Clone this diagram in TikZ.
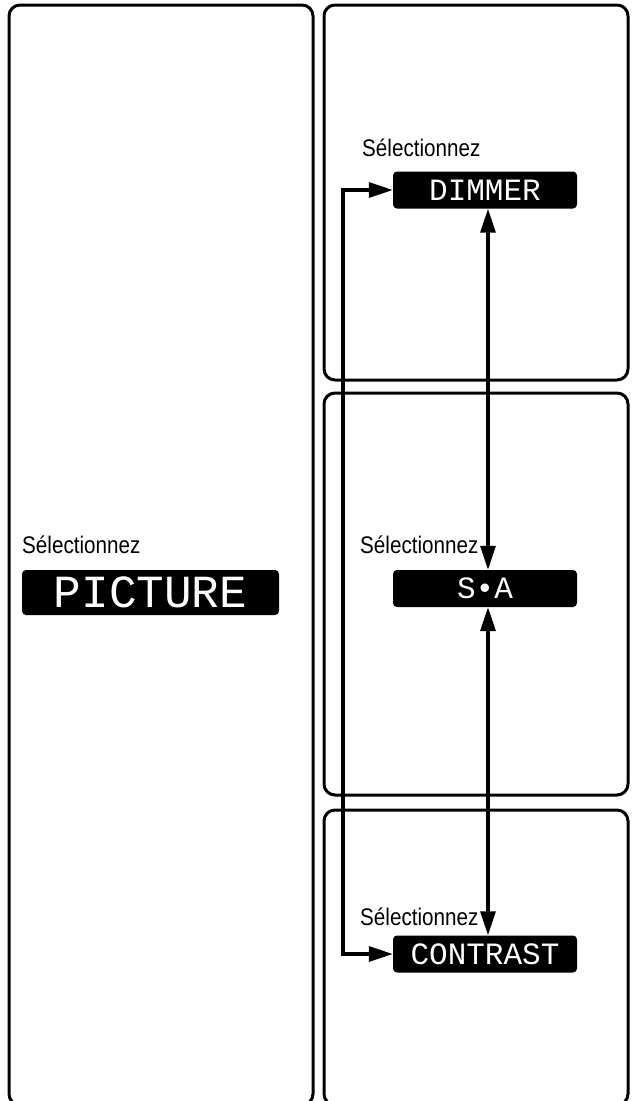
\documentclass[tikz,border=0pt]{standalone}
\usepackage{fontspec}
\setmainfont{Liberation Sans}
\newfontfamily\lcdfont{Liberation Mono}
\newfontfamily\condfont[FakeStretch=0.86]{Liberation Sans}
\usetikzlibrary{arrows.meta,positioning}

\tikzset{
  panel/.style={draw, line width=3pt, rounded corners=11pt},
  sel/.style={anchor=base west, inner sep=0pt, font=\condfont\fontsize{24}{24}\selectfont},
  lcd/.style={fill=black, text=white, rounded corners=4pt, minimum width=184pt,
    minimum height=37pt, inner sep=0pt, font=\lcdfont\fontsize{31}{31}\selectfont},
  link/.style={line width=3.2pt,
    {Triangle[length=24pt,width=15pt]}-{Triangle[length=24pt,width=15pt]}}
}

\begin{document}
\begin{tikzpicture}[x=1pt, y=-1pt]
    \useasboundingbox (0,0) rectangle (635,1101);

    % Panels (bottom edges run off the page)
    \draw[panel] (9,5) rectangle (313,1105);
    \draw[panel] (324,5) rectangle (628,380);
    \draw[panel] (324,393) rectangle (628,795);
    \draw[panel] (324,810) rectangle (628,1105);

    % Left panel
    \node[sel] (selP) at (22,553) {Sélectionnez};
    \node[lcd, minimum width=257pt, minimum height=45pt,
          font=\lcdfont\fontsize{46}{46}\selectfont] (picture) at (150.5,592.5) {PICTURE};

    % Right panels: display boxes
    \node[lcd] (dimmer) at (485,190) {DIMMER};
    \node[lcd] (sa) at (485,588.5) {S•A};
    \node[lcd] (contrast) at (485,954) {CONTRAST};

    \node[sel] (selD) at (362,156) {Sélectionnez};
    \node[sel] (selS) at (360,553) {Sélectionnez};
    \node[sel] (selC) at (360,925) {Sélectionnez};

    % Connectors
    \coordinate (loopx) at (343,0);
    \draw[link] ([xshift=3pt]dimmer.south) -- ([xshift=3pt]sa.north);
    \draw[link] ([xshift=3pt]sa.south) -- ([xshift=3pt]contrast.north);
    \draw[link] (dimmer.west) -- (dimmer.west -| loopx)
        -- (contrast.west -| loopx) -- (contrast.west);
\end{tikzpicture}
\end{document}
